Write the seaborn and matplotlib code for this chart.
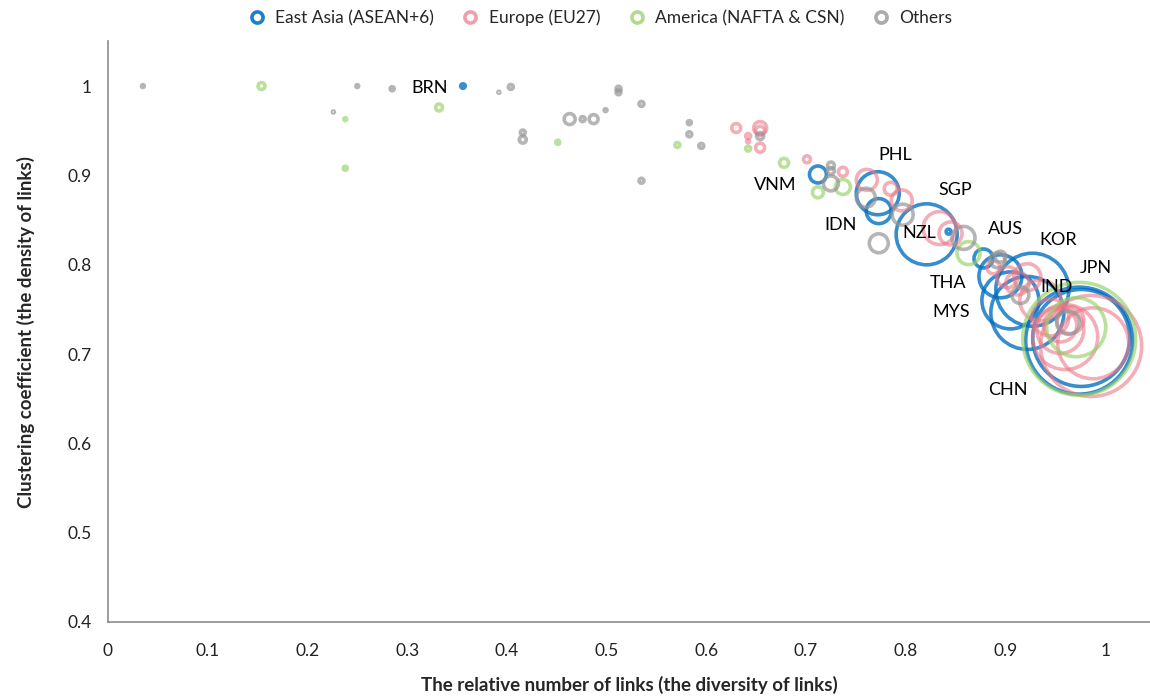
import numpy as np
import pandas as pd
import matplotlib
matplotlib.use("Agg")
import matplotlib.pyplot as plt
from matplotlib.lines import Line2D
from matplotlib.ticker import MultipleLocator
import seaborn as sns

regions = ["East Asia (ASEAN+6)", "Europe (EU27)", "America (NAFTA & CSN)", "Others"]

# East Asia (ASEAN+6)
asia_names = ["BRN", "VNM", "PHL", "IDN", "SGP", "NZL", "AUS", "THA", "MYS", "KOR", "IND", "CHN", "JPN"]
asia_x = [0.356, 0.712, 0.772, 0.773, 0.821, 0.843, 0.878, 0.895, 0.905, 0.927, 0.922, 0.974, 0.976]
asia_y = [1.000, 0.901, 0.880, 0.860, 0.834, 0.837, 0.807, 0.787, 0.760, 0.772, 0.746, 0.715, 0.718]
asia_v = [5, 72, 462, 156, 930, 6, 90, 462, 812, 1332, 1332, 2862, 2352]

# Europe (EU27)
eu_x = [0.630, 0.642, 0.642, 0.654, 0.654, 0.654, 0.701, 0.737, 0.761, 0.785, 0.796, 0.834, 0.845,
        0.888, 0.902, 0.912, 0.922, 0.935, 0.945, 0.955, 0.955, 0.960, 0.965, 0.988, 0.986]
eu_y = [0.953, 0.944, 0.938, 0.953, 0.950, 0.931, 0.918, 0.904, 0.895, 0.885, 0.872, 0.841, 0.835,
        0.797, 0.786, 0.779, 0.786, 0.760, 0.741, 0.732, 0.727, 0.719, 0.738, 0.712, 0.709]
eu_v = [20, 6, 2, 42, 20, 20, 12, 20, 110, 42, 110, 272, 132,
        42, 110, 132, 182, 420, 342, 272, 552, 1056, 182, 1260, 2550]

# America (NAFTA & CSN)
am_x = [0.154, 0.238, 0.238, 0.332, 0.451, 0.571, 0.642, 0.678, 0.712, 0.737, 0.863, 0.971, 0.974]
am_y = [1.000, 0.963, 0.908, 0.976, 0.937, 0.934, 0.930, 0.914, 0.881, 0.887, 0.813, 0.730, 0.717]
am_v = [12, 2, 4, 12, 4, 6, 6, 20, 30, 56, 132, 870, 3192]

# Others
ot_x = [0.035, 0.250, 0.285, 0.392, 0.226, 0.404, 0.416, 0.416, 0.463, 0.476, 0.487, 0.499, 0.512,
        0.512, 0.535, 0.535, 0.583, 0.583, 0.595, 0.654, 0.725, 0.725, 0.725, 0.760, 0.797, 0.773,
        0.858, 0.892, 0.895, 0.915, 0.963]
ot_y = [1.000, 1.000, 0.997, 0.993, 0.971, 0.999, 0.948, 0.940, 0.963, 0.963, 0.963, 0.973, 0.997,
        0.993, 0.980, 0.894, 0.959, 0.946, 0.933, 0.944, 0.911, 0.905, 0.891, 0.875, 0.856, 0.824,
        0.830, 0.805, 0.809, 0.766, 0.735]
ot_v = [2, 2, 4, 1, 1, 6, 6, 12, 30, 6, 20, 2, 6,
        6, 6, 6, 4, 6, 6, 12, 12, 12, 56, 90, 110, 90,
        132, 56, 30, 72, 132]

# where the country names sit
label_pos = {"BRN": (0.323, 0.998), "VNM": (0.669, 0.889), "PHL": (0.790, 0.923),
             "IDN": (0.735, 0.844), "SGP": (0.850, 0.884), "NZL": (0.814, 0.835),
             "AUS": (0.900, 0.840), "KOR": (0.953, 0.828), "JPN": (0.991, 0.796),
             "THA": (0.842, 0.779), "IND": (0.951, 0.775), "MYS": (0.846, 0.747),
             "CHN": (0.902, 0.660)}

colors = {regions[0]: ((0.0, 0.43, 0.75), 0.78),
          regions[1]: ((0.92, 0.47, 0.53), 0.6),
          regions[2]: ((0.59, 0.82, 0.40), 0.65),
          regions[3]: ((0.59, 0.59, 0.59), 0.7)}

df = pd.concat([
    pd.DataFrame({"x": asia_x, "y": asia_y, "v": asia_v, "region": regions[0]}),
    pd.DataFrame({"x": eu_x, "y": eu_y, "v": eu_v, "region": regions[1]}),
    pd.DataFrame({"x": am_x, "y": am_y, "v": am_v, "region": regions[2]}),
    pd.DataFrame({"x": ot_x, "y": ot_y, "v": ot_v, "region": regions[3]}),
], ignore_index=True)

sns.set_style("white")
plt.rcParams['font.family'] = ['Lato', 'DejaVu Sans']

fig = plt.figure(figsize=(11.5, 6.98), dpi=100)
ax = fig.add_axes([0.0939, 0.1089, 0.9061, 0.8318])

vmax = df["v"].max()
k = (2 * 0.72) ** 2  # px^2 -> pt^2 at 100 dpi
for reg in regions:
    sub = df[df["region"] == reg]
    c, a = colors[reg]
    sns.scatterplot(data=sub, x="x", y="y", size="v", sizes=(0, k * vmax), size_norm=(0, vmax),
                    facecolor="none", edgecolor=c, color=c, alpha=a, linewidth=2.6,
                    legend=False, ax=ax)

for name, (tx, ty) in label_pos.items():
    ax.text(tx, ty, name, fontsize=13, ha="center", va="center", color="black")

ax.set_xlim(0, 1.045)
ax.set_ylim(0.4, 1.05)
ax.xaxis.set_major_locator(MultipleLocator(0.1))
ax.xaxis.set_minor_locator(MultipleLocator(0.05))
ax.yaxis.set_major_locator(MultipleLocator(0.1))
ax.yaxis.set_minor_locator(MultipleLocator(0.05))
xt = np.arange(0, 1.01, 0.1)
ax.set_xticks(xt)
ax.set_xticklabels(["0"] + [f"{t:.1f}" for t in xt[1:-1]] + ["1"])
yt = np.arange(0.4, 1.01, 0.1)
ax.set_yticks(yt)
ax.set_yticklabels([f"{t:.1f}" for t in yt[:-1]] + ["1"])

for s in ["top", "right"]:
    ax.spines[s].set_visible(False)
for s in ["left", "bottom"]:
    ax.spines[s].set_color("#8c8c8c")
    ax.spines[s].set_linewidth(1.2)
ax.tick_params(which="major", direction="out", length=5, width=1, color="#8c8c8c",
               labelsize=12.5, labelcolor="#222222", pad=7)
ax.tick_params(which="minor", direction="out", length=4, width=1, color="#8c8c8c")
ax.tick_params(axis="x", which="major", pad=10)

ax.set_xlabel("The relative number of links (the diversity of links)", fontsize=13.5,
              fontweight="bold", labelpad=12)
ax.set_ylabel("Clustering coefficient (the density of links)", fontsize=13.5,
              fontweight="bold", labelpad=23)

handles = [Line2D([], [], marker="o", linestyle="none", markerfacecolor="none",
                  markeredgecolor=colors[r][0], alpha=colors[r][1] + 0.1,
                  markersize=8, markeredgewidth=2.6) for r in regions]
fig.legend(handles, regions, loc="center", bbox_to_anchor=(0.518, 0.974), ncol=4,
           frameon=False, fontsize=12.5, handletextpad=0.05, columnspacing=1.1)

fig.savefig("out.png", dpi=100)
